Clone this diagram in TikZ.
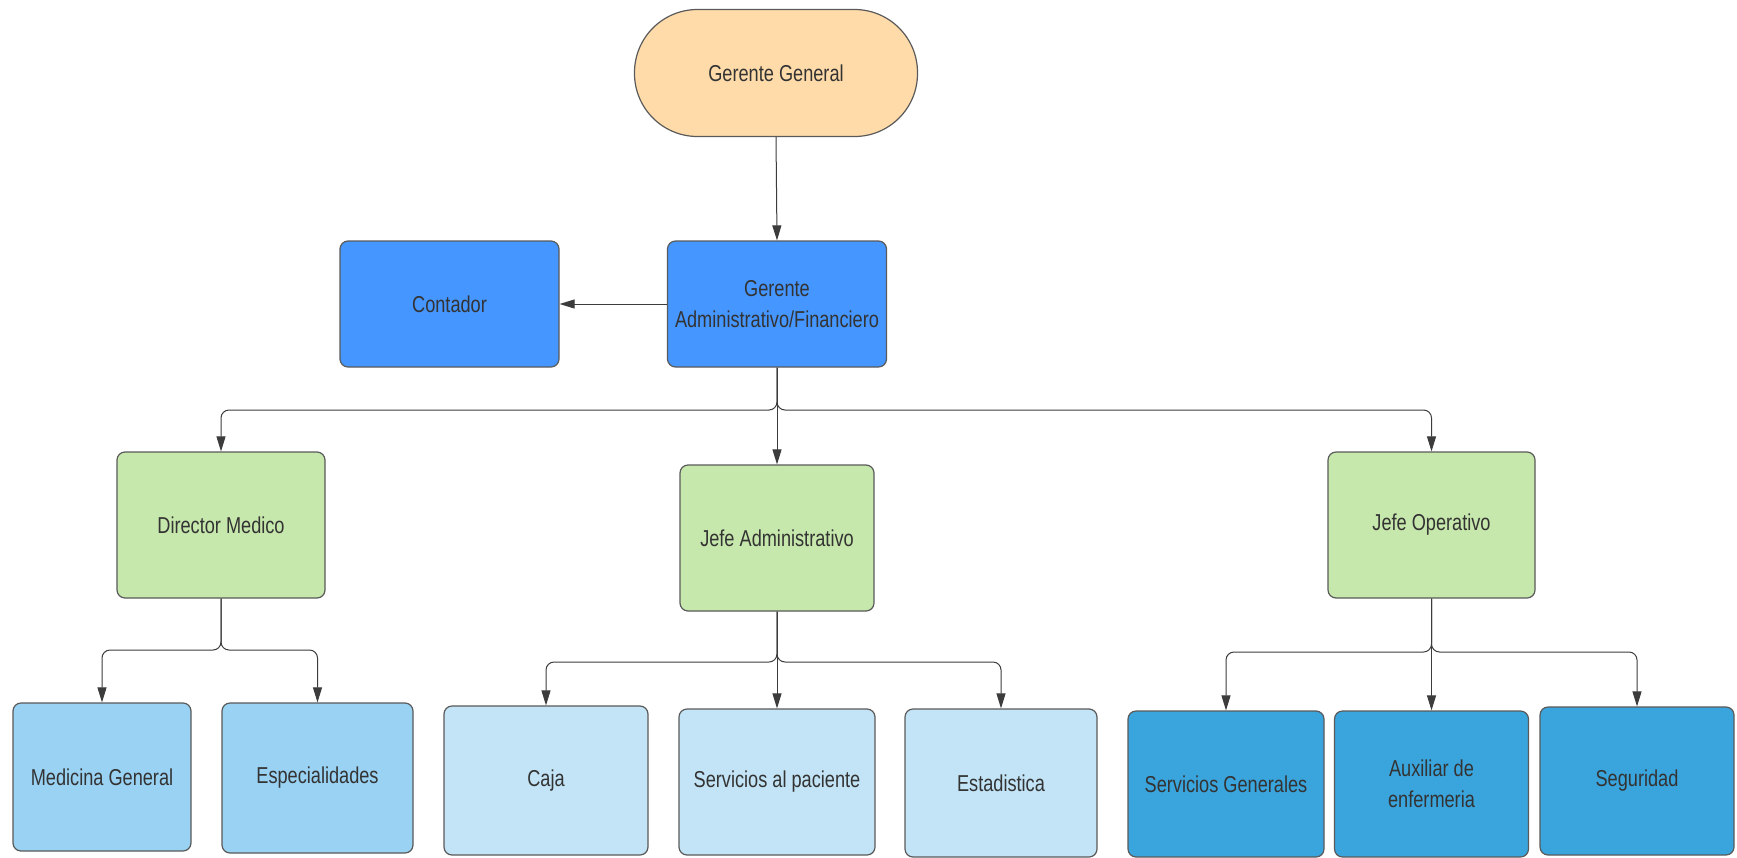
\documentclass[tikz,border=0pt]{standalone}
\usepackage{fontspec}
\setmainfont{Liberation Sans}[FakeStretch=0.79]
\usetikzlibrary{arrows.meta}
\definecolor{ggfill}{RGB}{255,219,169}
\definecolor{bluefill}{RGB}{69,150,255}
\definecolor{greenfill}{RGB}{199,232,172}
\definecolor{midblue}{RGB}{153,210,243}
\definecolor{lightblue}{RGB}{194,228,246}
\definecolor{deepblue}{RGB}{58,164,220}
\definecolor{bordercol}{RGB}{90,90,90}
\definecolor{textcol}{RGB}{51,51,51}
\definecolor{linecol}{RGB}{60,60,60}
\tikzset{
  box/.style={draw=bordercol, line width=1.2pt, rounded corners=8pt, inner sep=0pt,
    align=center, text=textcol, font=\fontsize{23}{31}\selectfont},
  conn/.style={draw=linecol, line width=1pt, rounded corners=8pt,
    -{Triangle[length=15pt,width=9pt]}},
}
\begin{document}
\begin{tikzpicture}[x=1pt,y=-1pt]
\useasboundingbox (0,0) rectangle (1737,857);
\fill[white] (0,0) rectangle (1737,857);
% nodes
\node[box, fill=ggfill, rounded corners=63pt, minimum width=283pt, minimum height=127pt] (gg) at (776,73) {Gerente General};
\node[box, fill=bluefill, minimum width=219pt, minimum height=126pt] (ga) at (777,304) {Gerente\\Administrativo/Financiero};
\node[box, fill=bluefill, minimum width=219pt, minimum height=126pt] (cont) at (449.5,304) {Contador};
\node[box, fill=greenfill, minimum width=208pt, minimum height=146pt] (dm) at (221,525) {Director Medico};
\node[box, fill=greenfill, minimum width=194pt, minimum height=146pt] (ja) at (777,538) {Jefe Administrativo};
\node[box, fill=greenfill, minimum width=207pt, minimum height=146pt] (jo) at (1431.5,525) {Jefe Operativo};
\node[box, fill=midblue, minimum width=178pt, minimum height=148pt] (mg) at (102,777) {Medicina General};
\node[box, fill=midblue, minimum width=191pt, minimum height=150pt] (esp) at (317.5,778) {Especialidades};
\node[box, fill=lightblue, minimum width=204pt, minimum height=149pt] (caja) at (546,780.5) {Caja};
\node[box, fill=lightblue, minimum width=196pt, minimum height=146pt] (sp) at (777,782) {Servicios al paciente};
\node[box, fill=lightblue, minimum width=192pt, minimum height=148pt] (est) at (1001,783) {Estadistica};
\node[box, fill=deepblue, minimum width=196pt, minimum height=146pt] (sg) at (1226,784) {Servicios Generales};
\node[box, fill=deepblue, minimum width=194pt, minimum height=146pt] (aux) at (1431.5,784) {Auxiliar de\\enfermeria};
\node[box, fill=deepblue, minimum width=194pt, minimum height=148pt] (seg) at (1637,781) {Seguridad};
% bus levels
\coordinate (b1) at (0,410);
\coordinate (b2) at (0,650);
\coordinate (b3) at (0,662);
\coordinate (b4) at (0,652);
% connectors
\draw[conn] (gg.south) -- (ga.north);
\draw[conn] (ga.west) -- (cont.east);
\draw[conn] (ga.south) |- (b1 -| dm.north) -- (dm.north);
\draw[conn] (ga.south) -- (ja.north);
\draw[conn] (ga.south) |- (b1 -| jo.north) -- (jo.north);
\draw[conn] (dm.south) |- (b2 -| mg.north) -- (mg.north);
\draw[conn] (dm.south) |- (b2 -| esp.north) -- (esp.north);
\draw[conn] (ja.south) |- (b3 -| caja.north) -- (caja.north);
\draw[conn] (ja.south) -- (sp.north);
\draw[conn] (ja.south) |- (b3 -| est.north) -- (est.north);
\draw[conn] (jo.south) |- (b4 -| sg.north) -- (sg.north);
\draw[conn] (jo.south) -- (aux.north);
\draw[conn] (jo.south) |- (b4 -| seg.north) -- (seg.north);
\end{tikzpicture}
\end{document}
